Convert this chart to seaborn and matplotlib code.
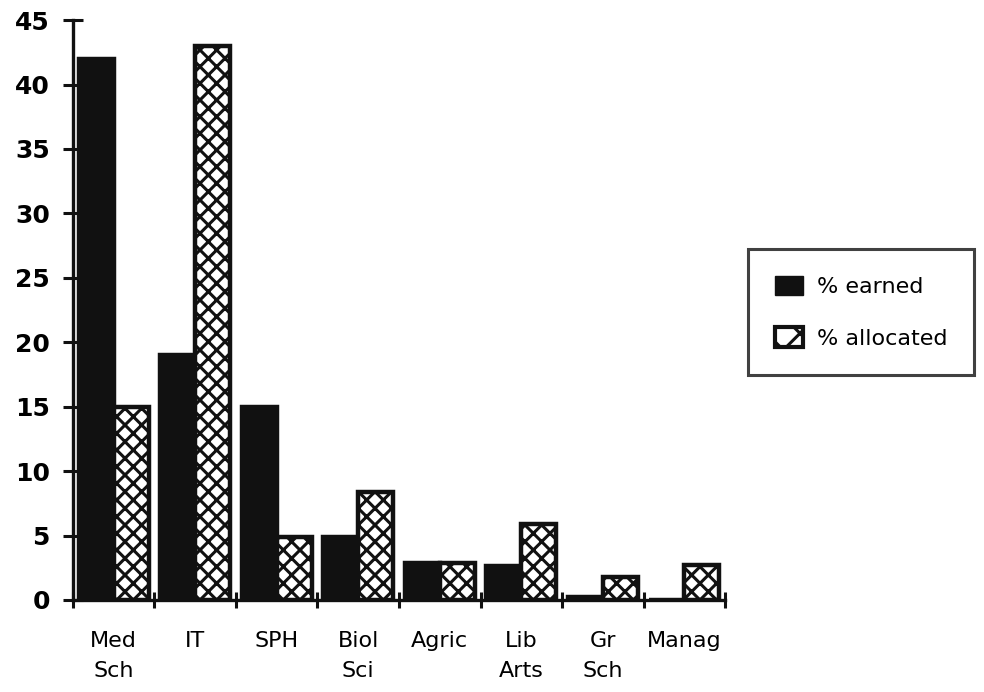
import pandas as pd
import seaborn as sns
import matplotlib.pyplot as plt
from matplotlib.patches import Patch

# values
categories = ["Med\nSch", "IT", "SPH", "Biol\nSci", "Agric", "Lib\nArts", "Gr\nSch", "Manag"]
pct_earned = [42, 19, 15, 4.9, 2.9, 2.6, 0.2, 0]
pct_allocated = [15, 43, 4.9, 8.4, 2.9, 5.9, 1.8, 2.7]
series = ["% earned", "% allocated"]
y_ticks = [0, 5, 10, 15, 20, 25, 30, 35, 40, 45]

df = pd.DataFrame({
    "category": categories * 2,
    "series": [series[0]] * len(categories) + [series[1]] * len(categories),
    "value": pct_earned + pct_allocated,
})

sns.set_style("white")
# wide sans font, closer to the old scanned Helvetica look
plt.rcParams["font.family"] = ["DejaVu Sans"]
plt.rcParams["hatch.linewidth"] = 2.2
plt.rcParams["text.color"] = "black"

ink = "#111111"

fig = plt.figure(figsize=(9.84, 6.92), dpi=100)
ax = fig.add_axes([0.074, 0.133, 0.663, 0.838])

sns.barplot(
    data=df, x="category", y="value", hue="series",
    palette=[ink, "white"], width=0.86, gap=0.0,
    edgecolor=ink, linewidth=3.2, legend=False, ax=ax,
)

# hatch the "allocated" bars
for bar in ax.containers[1]:
    bar.set_hatch("xx")
    bar.set_edgecolor(ink)

ax.set_ylim(0, 45)
ax.set_xlim(-0.5, len(categories) - 0.5)
ax.set_yticks(y_ticks)
ax.set_yticklabels([str(t) for t in y_ticks], fontsize=18, fontweight="bold", color="black")
ax.set_xticks(range(len(categories)))
ax.set_xticklabels(categories, fontsize=16, linespacing=1.65, color="black")
ax.set_xticks([i - 0.5 for i in range(len(categories) + 1)], minor=True)
ax.tick_params(axis="x", which="major", bottom=True, length=0, pad=22)
ax.tick_params(axis="x", which="minor", bottom=True, direction="inout",
               length=12, width=2.2, color=ink)
ax.tick_params(axis="y", left=True, direction="inout", length=15, width=2.2,
               pad=9, color=ink)
ax.set_xlabel("")
ax.set_ylabel("")

sns.despine(ax=ax)
for side in ["left", "bottom"]:
    ax.spines[side].set_linewidth(2.4)
    ax.spines[side].set_color(ink)

handles = [
    Patch(facecolor=ink, edgecolor=ink, label=series[0]),
    Patch(facecolor="white", edgecolor=ink, hatch="x", linewidth=3, label=series[1]),
]
leg = fig.legend(
    handles=handles, loc="center left", bbox_to_anchor=(0.76, 0.549),
    frameon=True, fancybox=False, fontsize=16, handlelength=1.3, handleheight=1.0,
    borderpad=1.2, labelspacing=1.35, handletextpad=0.6, borderaxespad=0,
)
leg.get_frame().set_edgecolor(ink)
leg.get_frame().set_linewidth(2.2)
for txt in leg.get_texts():
    txt.set_color("black")

fig.savefig("out.png", dpi=100)
